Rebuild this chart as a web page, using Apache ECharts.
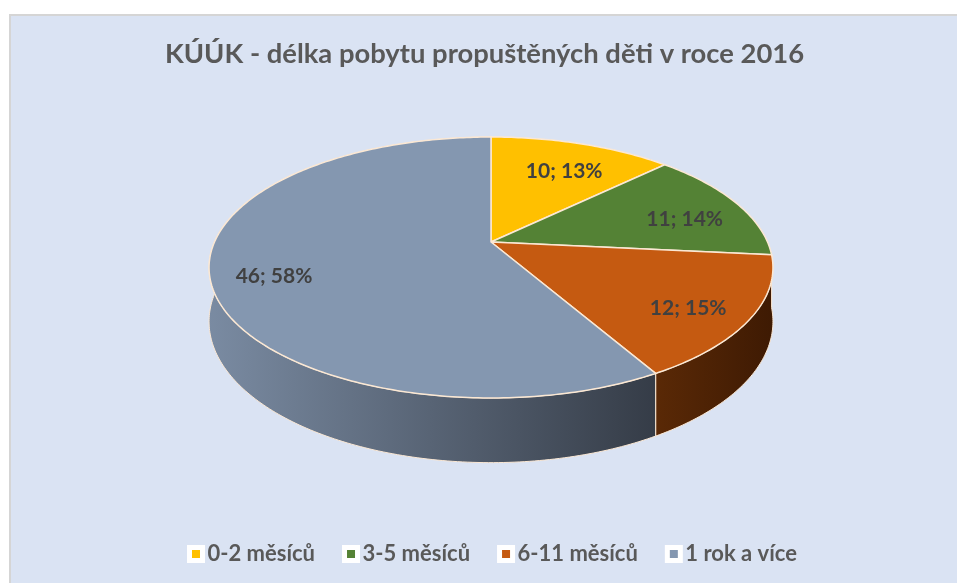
<!DOCTYPE html>
<html>
<head>
<meta charset="utf-8">
<script src="https://cdn.jsdelivr.net/npm/echarts@6/dist/echarts.min.js"></script>
<style>
  html, body { margin: 0; padding: 0; background: #fff; }
  #chart { width: 957px; height: 583px; }
</style>
</head>
<body>
<div id="chart"></div>
<script>
// data
const categories = ['0-2 měsíců', '3-5 měsíců', '6-11 měsíců', '1 rok a více'];
const values = [10, 11, 12, 46];
const titleText = 'KÚÚK - délka pobytu propuštěných děti v roce 2016';

// styles
const topColors = ['#FFC000', '#548235', '#C55A11', '#8497B0'];
const sideColors = [['#b38600', '#8a6700'], ['#3a5c24', '#2a431a'], ['#5a2906', '#3e1a03'], ['#7a8ba2', '#353c47']];
const edgeColor = '#fbe8d4';
const font = 'Lato, "Liberation Sans", sans-serif';

// 3d pie geometry (perspective ellipse)
const pie = { cx: 491, cy: 242, rx: 276.5, ry: 125.5, k: 0.1955, depth: 52, labelR: 0.78, labelDy: 8 };
const total = values.reduce((a, b) => a + b, 0);

function project(r, ang) {
  // ang clockwise from 12 o'clock
  const u = r * Math.sin(ang), v = -r * Math.cos(ang);
  const f = 1 / (1 - pie.k * v);
  return [pie.cx + pie.rx * u * f, pie.cy + pie.ry * v * f, f];
}

function makeRender(i) {
  return function (params, api) {
    const val = api.value(0);
    const start = values.slice(0, i).reduce((a, b) => a + b, 0);
    const a0 = start / total * Math.PI * 2;
    const a1 = (start + val) / total * Math.PI * 2;
    const n = Math.max(10, Math.ceil((a1 - a0) / 0.015));
    const rim = [];
    for (let j = 0; j <= n; j++) rim.push(project(1, a0 + (a1 - a0) * j / n));
    const topPts = [[pie.cx, pie.cy]].concat(rim.map(p => [p[0], p[1]]));
    const wallPts = rim.map(p => [p[0], p[1]])
      .concat(rim.slice().reverse().map(p => [p[0], p[1] + pie.depth * p[2]]));
    const lp = project(pie.labelR, (a0 + a1) / 2);
    const pct = Math.round(val / total * 100);
    return {
      type: 'group',
      children: [
        {
          type: 'polygon', z2: 1,
          shape: { points: wallPts },
          style: {
            fill: new echarts.graphic.LinearGradient(0, 0, 1, 0, [
              { offset: 0, color: sideColors[i][0] },
              { offset: 1, color: sideColors[i][1] }
            ]),
            stroke: edgeColor, lineWidth: 1
          }
        },
        {
          type: 'polygon', z2: 10,
          shape: { points: topPts },
          style: { fill: topColors[i], stroke: edgeColor, lineWidth: 1.5 }
        },
        {
          type: 'text', z2: 20,
          x: lp[0], y: lp[1] + pie.labelDy,
          style: {
            text: val + '; ' + pct + '%',
            fill: '#404040',
            font: 'bold 21px ' + font,
            align: 'center', verticalAlign: 'middle'
          }
        }
      ]
    };
  };
}

const chart = echarts.init(document.getElementById('chart'));
chart.setOption({
  backgroundColor: '#fff',
  animation: false,
  graphic: [{
    type: 'rect', z: -10,
    shape: { x: 10, y: 15, width: 960, height: 580 },
    style: { fill: '#dae3f3', stroke: '#d5d5d5', lineWidth: 2 }
  }],
  title: {
    text: titleText,
    left: 160, top: 36,
    textStyle: { color: '#595959', fontFamily: font, fontWeight: 'bold', fontSize: 27.4 }
  },
  legend: {
    data: categories,
    top: 538, left: 182,
    itemGap: 27, itemWidth: 13, itemHeight: 13,
    icon: 'rect',
    itemStyle: { borderColor: '#fff', borderWidth: 5 },
    textStyle: { color: '#595959', fontFamily: font, fontWeight: 'bold', fontSize: 22 }
  },
  series: categories.map((name, i) => ({
    type: 'custom',
    name: name,
    coordinateSystem: 'none',
    itemStyle: { color: topColors[i] },
    renderItem: makeRender(i),
    data: [values[i]]
  }))
});
</script>
</body>
</html>
